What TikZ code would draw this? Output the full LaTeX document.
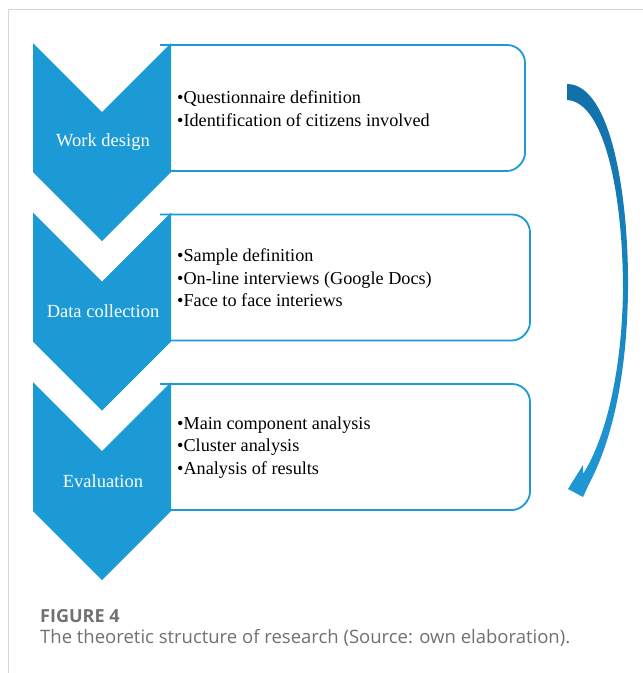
\documentclass[tikz,border=0pt]{standalone}
\usepackage{fontspec}
\setmainfont{Liberation Serif}
\newfontfamily\capfont{Open Sans}
\usepackage{xcolor}
\definecolor{stepBlue}{RGB}{27,154,214}
\definecolor{arrowTop}{RGB}{18,112,168}
\definecolor{arrowBot}{RGB}{32,152,214}
\definecolor{frameGray}{RGB}{214,214,214}
\definecolor{capGray}{RGB}{112,112,112}
\usepackage{tikz}
\usetikzlibrary{positioning,calc}

\begin{document}
\begin{tikzpicture}[
  x=1pt,y=-1pt,
  chev/.style={fill=stepBlue},
  boxline/.style={stepBlue,line width=1.8pt},
  steplabel/.style={text=white,font=\fontsize{18.5}{22}\selectfont},
  items/.style={anchor=west,align=left,inner sep=0pt,font=\fontsize{18.2}{22.5}\selectfont},
  capt/.style={anchor=base west,inner sep=0pt,text=capGray}]

  \useasboundingbox (0,0) rectangle (643,673);
  \draw[frameGray,line width=1pt] (8,673) -- (8,9) -- (643,9);

  \foreach \i/\T/\R/\name/\list in {
      1/43/525/{Work design}/{\textbullet Questionnaire definition\\\textbullet Identification of citizens involved},
      2/212.5/530/{Data collection}/{\textbullet Sample definition\\\textbullet On-line interviews (Google Docs)\\\textbullet Face to face interiews},
      3/382/530/{Evaluation}/{\textbullet Main component analysis\\\textbullet Cluster analysis\\\textbullet Analysis of results}}{
    \draw[boxline] (160,{\T+2}) -- ({\R-18},{\T+2})
      .. controls ({\R-8},{\T+2}) and (\R,{\T+10}) .. (\R,{\T+20})
      -- (\R,{\T+110})
      .. controls (\R,{\T+118}) and ({\R-8},{\T+128}) .. ({\R-18},{\T+128})
      -- (160,{\T+128});
    \fill[chev] (33,\T) -- (102,{\T+69}) -- (171,\T) -- (171,{\T+129})
      -- (102,{\T+198}) -- (33,{\T+129}) -- cycle;
    \node[steplabel] (step\i) at (103,{\T+99}) {\name};
    \node[items] (items\i) at (177,{\T+65.5}) {\list};
  }

  % cycle arrow on the right
  \shade[top color=arrowTop,bottom color=arrowBot]
    (567,84) .. controls (612,84) and (629,200) .. (628,290)
    .. controls (627,375) and (612,440) .. (590,482)
    -- (583,497) -- (568,489) -- (583,465) -- (583,474)
    .. controls (606,438) and (622,370) .. (623,290)
    .. controls (623,200) and (606,102) .. (567,100) -- cycle;

  \node[capt,font=\capfont\bfseries\fontsize{18}{20}\selectfont] (figno) at (40,622) {FIGURE 4};
  \node[capt,font=\capfont\fontsize{18.5}{20}\selectfont] (figcap) at (40,643)
    {The theoretic structure of research (Source: own elaboration).};
\end{tikzpicture}
\end{document}
